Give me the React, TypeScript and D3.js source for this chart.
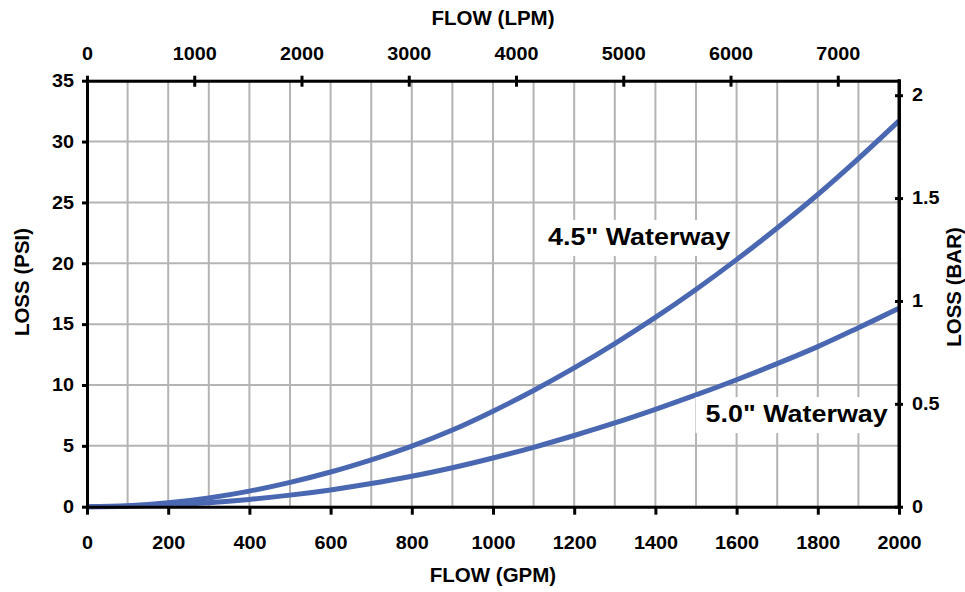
import React, { useEffect, useRef } from "react";
import * as d3 from "d3";

// flow in GPM, loss in PSI, every 100 GPM
const flowGpm = [0, 100, 200, 300, 400, 500, 600, 700, 800, 900, 1000, 1100, 1200, 1300, 1400, 1500, 1600, 1700, 1800, 1900, 2000];
const loss45 = [0, 0.08, 0.32, 0.72, 1.28, 2.0, 2.85, 3.85, 4.98, 6.3, 7.85, 9.55, 11.4, 13.4, 15.55, 17.85, 20.3, 22.9, 25.65, 28.6, 31.7];
const loss50 = [0, 0.04, 0.15, 0.33, 0.6, 0.95, 1.38, 1.9, 2.5, 3.2, 4.0, 4.88, 5.85, 6.88, 8.0, 9.18, 10.43, 11.75, 13.15, 14.7, 16.3];

const gpmTicks = [0, 200, 400, 600, 800, 1000, 1200, 1400, 1600, 1800, 2000];
const lpmTicks = [0, 1000, 2000, 3000, 4000, 5000, 6000, 7000];
const psiTicks = [0, 5, 10, 15, 20, 25, 30, 35];
const barTicks = [0, 0.5, 1, 1.5, 2];

const seriesLabels = [
    { text: '4.5" Waterway', gpm: 1360, psi: 21.5 },
    { text: '5.0" Waterway', gpm: 1748, psi: 6.95 },
];

const W = 965;
const H = 592;
const plot = { left: 87, right: 899, top: 80.7, bottom: 506.7 };
const LPM_PER_GPM = 3.78541;
const FONT = "'Liberation Sans', Arial, sans-serif";
const BLUE = "#4a68b2";
const TICK_SX = 1.1;

export default function App() {
    const ref = useRef<SVGSVGElement>(null);

    useEffect(() => {
        const svg = d3.select(ref.current);
        svg.selectAll("*").remove();

        const x = d3.scaleLinear().domain([0, 2000]).range([plot.left, plot.right]);
        const xTop = d3.scaleLinear().domain([0, 2000 * LPM_PER_GPM]).range([plot.left, plot.right]);
        const y = d3.scaleLinear().domain([0, 35]).range([plot.bottom, plot.top]);
        // bar axis as drawn: 2 bar sits a bit below the top edge
        const yBar = d3.scaleLinear().domain([0, 2.0705]).range([plot.bottom, plot.top]);

        // grid
        const grid = svg.append("g").attr("stroke", "#b4b4b4").attr("stroke-width", 2);
        grid.selectAll("line.v")
            .data(flowGpm)
            .enter()
            .append("line")
            .attr("x1", (d) => x(d))
            .attr("x2", (d) => x(d))
            .attr("y1", plot.top)
            .attr("y2", plot.bottom);
        grid.selectAll("line.h")
            .data(psiTicks)
            .enter()
            .append("line")
            .attr("x1", plot.left)
            .attr("x2", plot.right)
            .attr("y1", (d) => y(d))
            .attr("y2", (d) => y(d));

        // curves
        const line = d3
            .line<number>()
            .x((d, i) => x(flowGpm[i]))
            .y((d) => y(d))
            .curve(d3.curveCatmullRom.alpha(0.5));

        [loss45, loss50].forEach((s) => {
            svg.append("path")
                .datum(s)
                .attr("fill", "none")
                .attr("stroke", BLUE)
                .attr("stroke-width", 5)
                .attr("d", line);
        });

        // series labels with white boxes
        seriesLabels.forEach((l) => {
            const g = svg.append("g").attr("transform", `translate(${x(l.gpm)},${y(l.psi)})`);
            const rect = g.append("rect").attr("fill", "#fff");
            const t = g.append("text")
                .attr("text-anchor", "middle")
                .attr("transform", "scale(1.17,1)")
                .style("font-family", FONT)
                .style("font-weight", "bold")
                .style("font-size", "23px")
                .attr("fill", "#000")
                .text(l.text);
            const bb = (t.node() as SVGTextElement).getBBox();
            const w = bb.width * 1.17;
            rect.attr("x", -w / 2 - 10).attr("y", -25).attr("width", w + 14).attr("height", 36);
        });

        const styleAxis = (g: any) => {
            g.select(".domain").attr("stroke", "#000").attr("stroke-width", 3).attr("stroke-linecap", "square");
            g.selectAll(".tick line").attr("stroke", "#000").attr("stroke-width", 3);
            g.selectAll(".tick text")
                .attr("fill", "#000")
                .style("font-family", FONT)
                .style("font-weight", "bold")
                .style("font-size", "18px");
        };

        // bottom GPM
        const gb = svg.append("g")
            .attr("transform", `translate(0,${plot.bottom})`)
            .call(d3.axisBottom(x).tickValues(gpmTicks).tickSize(8).tickSizeOuter(0).tickPadding(22).tickFormat((d) => String(d)));
        styleAxis(gb);
        gb.selectAll(".tick text").attr("transform", `scale(${TICK_SX},1)`);

        // top LPM
        const gt = svg.append("g")
            .attr("transform", `translate(0,${plot.top})`)
            .call(d3.axisTop(xTop).tickValues(lpmTicks).tickSize(5).tickSizeOuter(0).tickPadding(16).tickFormat((d) => String(d)));
        styleAxis(gt);
        gt.selectAll(".tick line").attr("y1", 6).attr("y2", -5);
        gt.selectAll(".tick text").attr("transform", `scale(${TICK_SX},1)`);

        // left PSI
        const gl = svg.append("g")
            .attr("transform", `translate(${plot.left},0)`)
            .call(d3.axisLeft(y).tickValues(psiTicks).tickSize(5).tickSizeOuter(0).tickPadding(8).tickFormat((d) => String(d)));
        styleAxis(gl);
        gl.selectAll(".tick text").attr("x", -13 / TICK_SX).attr("transform", `scale(${TICK_SX},1)`);

        // right BAR
        const gr = svg.append("g")
            .attr("transform", `translate(${plot.right},0)`)
            .call(d3.axisRight(yBar).tickValues(barTicks).tickSize(4).tickSizeOuter(0).tickPadding(9).tickFormat((d) => String(d)));
        styleAxis(gr);
        gr.selectAll(".tick line").attr("x1", -4).attr("x2", 4);
        gr.selectAll(".tick text").attr("x", 13 / TICK_SX).attr("transform", `scale(${TICK_SX},1)`);

        // right edge line up to the top corner
        svg.append("line")
            .attr("x1", plot.right).attr("x2", plot.right)
            .attr("y1", plot.top).attr("y2", plot.bottom)
            .attr("stroke", "#000").attr("stroke-width", 3).attr("stroke-linecap", "square");

        // titles
        const title = (txt: string, tx: number, ty: number, rot: number) =>
            svg.append("text")
                .attr("transform", `translate(${tx},${ty}) rotate(${rot})`)
                .attr("text-anchor", "middle")
                .style("font-family", FONT)
                .style("font-weight", "bold")
                .style("font-size", "20.5px")
                .attr("fill", "#000")
                .text(txt);

        title("FLOW (LPM)", 493, 25, 0);
        title("FLOW (GPM)", 493, 582, 0);
        title("LOSS (PSI)", 29, 282, -90);
        title("LOSS (BAR)", 961, 287, -90);
    }, []);

    return (
        <svg
            ref={ref}
            width={W}
            height={H}
            style={{ position: "absolute", left: 0, top: 0, background: "#fff" }}
        />
    );
}
